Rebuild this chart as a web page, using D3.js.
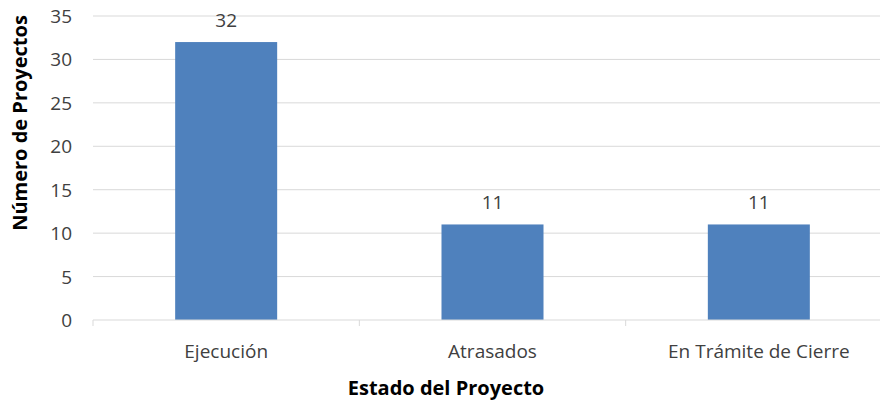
<!DOCTYPE html>
<html><head><meta charset="utf-8">
<script src="https://cdn.jsdelivr.net/npm/d3@7"></script>
<style>body{margin:0;background:#fff}svg{display:block}text{font-family:"Open Sans",sans-serif}</style>
</head><body>
<script>
const categories = ["Ejecución", "Atrasados", "En Trámite de Cierre"];
const values = [32, 11, 11];
const yTicks = [0, 5, 10, 15, 20, 25, 30, 35];
const xTitle = "Estado del Proyecto";
const yTitle = "Número de Proyectos";

const W = 880, H = 401;
const m = {left: 93, top: 16, right: -12, bottom: 81};
const svg = d3.select("body").append("svg").attr("width", W).attr("height", H);
const x = d3.scaleBand().domain(categories).range([m.left, W - m.right]).paddingInner(0.617).paddingOuter(0.3085);
const y = d3.scaleLinear().domain([0, 35]).range([H - m.bottom, m.top]);

const grid = svg.append("g");
grid.selectAll("line").data(yTicks.filter(d => d > 0)).join("line")
  .attr("x1", m.left).attr("x2", W - m.right)
  .attr("y1", d => y(d)).attr("y2", d => y(d))
  .attr("stroke", "#d9d9d9").attr("stroke-width", 1);

svg.append("g").selectAll("rect").data(values).join("rect")
  .attr("x", (d, i) => x(categories[i])).attr("width", x.bandwidth())
  .attr("y", d => y(d)).attr("height", d => y(0) - y(d))
  .attr("fill", "#4f81bd");

// x axis
const step = x.step();
const bounds = categories.map(c => x(c) - x.paddingOuter() * step).concat([x(categories[2]) + x.bandwidth() + x.paddingOuter() * step]);
const xa = svg.append("g");
xa.append("line").attr("x1", m.left).attr("x2", W - m.right).attr("y1", y(0)).attr("y2", y(0)).attr("stroke", "#d9d9d9");
xa.selectAll("line.t").data(bounds).join("line").attr("class", "t")
  .attr("x1", d => d).attr("x2", d => d).attr("y1", y(0)).attr("y2", y(0) + 6).attr("stroke", "#d9d9d9");
xa.selectAll("text").data(categories).join("text")
  .attr("x", d => x(d) + x.bandwidth() / 2).attr("y", y(0) + 38)
  .attr("text-anchor", "middle").attr("font-size", 19).attr("fill", "#404040").text(d => d);

// y axis labels
svg.append("g").selectAll("text").data(yTicks).join("text")
  .attr("x", 72).attr("y", d => y(d) + 7).attr("text-anchor", "end")
  .attr("font-size", 19).attr("fill", "#404040").text(d => d);

// data labels
svg.append("g").selectAll("text").data(values).join("text")
  .attr("x", (d, i) => x(categories[i]) + x.bandwidth() / 2).attr("y", d => y(d) - 15)
  .attr("text-anchor", "middle").attr("font-size", 19).attr("fill", "#404040").text(d => d);

svg.append("text").attr("x", 446).attr("y", 395).attr("text-anchor", "middle")
  .attr("font-size", 20).attr("font-weight", "bold").attr("fill", "#000").text(xTitle);
svg.append("text").attr("transform", "translate(27,123) rotate(-90)").attr("text-anchor", "middle")
  .attr("font-size", 20).attr("font-weight", "bold").attr("fill", "#000").text(yTitle);
</script>
</body></html>
